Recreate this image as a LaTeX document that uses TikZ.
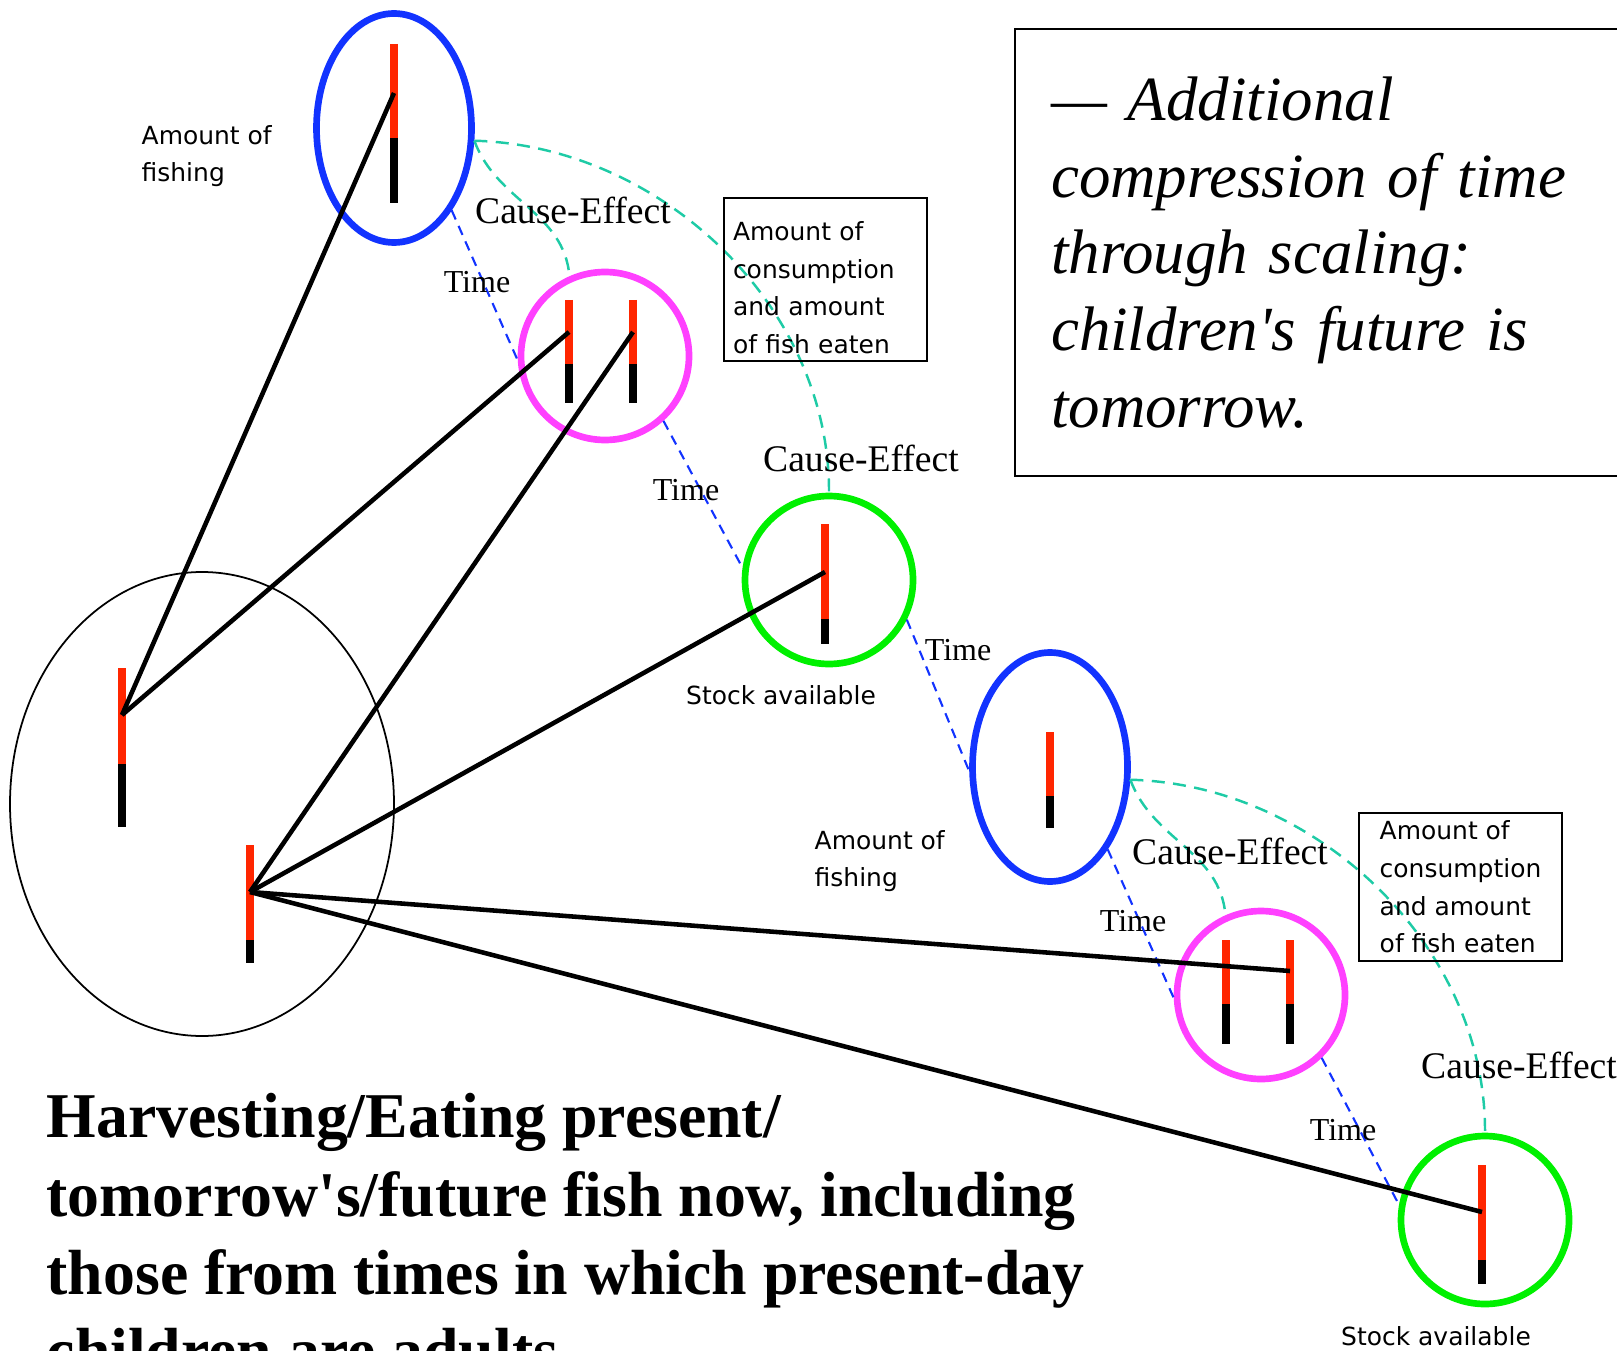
\documentclass[tikz,border=0pt]{standalone}
\usepackage{fontspec}
\setmainfont{Liberation Serif}
\newfontfamily\lucidish{DejaVu Sans}
\definecolor{fishBlue}{HTML}{1233FF}
\definecolor{fishMagenta}{HTML}{FF40FF}
\definecolor{fishGreen}{HTML}{00F000}
\definecolor{fishRed}{HTML}{FF2600}
\definecolor{fishTeal}{HTML}{1ECBA6}
\usetikzlibrary{
	shapes.geometric
}
\tikzset{
	fishingRing/.style={
		ellipse,
		draw=fishBlue,
		line width=1.9pt,
		minimum width=1.55cm,
		minimum height=2.29cm,
		inner sep=0pt
	},
	eatingRing/.style={
		circle,
		draw=fishMagenta,
		line width=1.9pt,
		minimum size=1.68cm,
		inner sep=0pt
	},
	stockRing/.style={
		circle,
		draw=fishGreen,
		line width=1.9pt,
		minimum size=1.68cm,
		inner sep=0pt
	},
	nowRing/.style={
		ellipse,
		draw=black,
		line width=0.5pt,
		minimum width=3.84cm,
		minimum height=4.64cm,
		inner sep=0pt
	},
	redPart/.style={
		fishRed,
		line width=2.3pt
	},
	blackPart/.style={
		black,
		line width=2.3pt
	},
	harvest/.style={
		black,
		line width=1.3pt
	},
	timeLink/.style={
		fishBlue,
		line width=0.6pt,
		dash pattern=on 2.8pt off 2pt
	},
	causeLink/.style={
		fishTeal,
		line width=0.7pt,
		dash pattern=on 3.7pt off 2.4pt
	},
	sideText/.style={
		font=\lucidish\fontsize{7.1pt}{10.7pt}\selectfont,
		align=left,
		inner sep=0pt
	},
	causeText/.style={
		font=\fontsize{10.7pt}{12pt}\selectfont,
		inner sep=0pt
	},
	timeText/.style={
		font=\fontsize{9.1pt}{11pt}\selectfont,
		inner sep=0pt
	},
	infoBox/.style={
		draw,
		line width=0.6pt,
		font=\lucidish\fontsize{7.1pt}{10.7pt}\selectfont,
		align=left,
		minimum width=2.03cm,
		inner sep=0pt
	},
	noteBox/.style={
		draw,
		line width=0.6pt,
		font=\fontsize{17.9pt}{21.8pt}\selectfont\itshape,
		align=left,
		text width=6cm,
		inner xsep=0.36cm,
		inner ysep=0pt,
		minimum height=4.47cm
	},
	headline/.style={
		font=\fontsize{18.15pt}{22.2pt}\selectfont\bfseries,
		align=left,
		inner sep=0pt
	}
}

\begin{document}
\begin{tikzpicture}
	\useasboundingbox (0,0) rectangle (16.17,13.5);
	% rings
	\node[nowRing] (now) at (2.02,5.46) {};
	\node[fishingRing] (fish1) at (3.94,12.22) {};
	\node[eatingRing] (eat1) at (6.05,9.94) {};
	\node[stockRing] (stock1) at (8.29,7.70) {};
	\node[fishingRing] (fish2) at (10.50,5.83) {};
	\node[eatingRing] (eat2) at (12.61,3.55) {};
	\node[stockRing] (stock2) at (14.85,1.30) {};
	% time and cause-effect links
	\draw[timeLink] (fish1.-55) -- (eat1.183);
	\draw[timeLink] (eat1.-48) -- (stock1.172);
	\draw[timeLink] (stock1.-27) -- (fish2.183);
	\draw[timeLink] (fish2.-55) -- (eat2.182);
	\draw[timeLink] (eat2.-46) -- (stock2.170);
	\draw[causeLink] (fish1.-9) to[out=-70,in=95] (eat1.114);
	\draw[causeLink] (fish1.-9) .. controls +(1.87,-0.05) and +(0.01,1.86) .. (stock1.north);
	\draw[causeLink] (fish2.-9) to[out=-70,in=95] (eat2.114);
	\draw[causeLink] (fish2.-9) .. controls +(1.87,-0.05) and +(0.01,1.86) .. (stock2.north);
	% fish bars
	\foreach \bx/\ya/\yb/\yc in {3.94/13.06/12.12/11.47, 5.69/10.50/9.86/9.47, 6.33/10.50/9.86/9.47,
		8.25/8.26/7.31/7.06, 10.50/6.18/5.54/5.22, 12.26/4.10/3.46/3.06, 12.90/4.10/3.46/3.06,
		14.82/1.85/0.90/0.66, 1.22/6.82/5.86/5.23, 2.50/5.05/4.10/3.87}{
		\draw[redPart] (\bx,\ya) -- (\bx,\yb);
		\draw[blackPart] (\bx,\yb) -- (\bx,\yc);
	}
	\coordinate (nowA) at (1.22,6.35);
	\coordinate (nowB) at (2.50,4.58);
	\coordinate (fish1c) at (3.94,12.57);
	\coordinate (eat1l) at (5.69,10.18);
	\coordinate (eat1r) at (6.33,10.18);
	\coordinate (stock1c) at (8.25,7.78);
	\coordinate (eat2r) at (12.90,3.79);
	\coordinate (stock2c) at (14.82,1.38);
	\draw[harvest] (nowA) -- (fish1c);
	\draw[harvest] (nowA) -- (eat1l);
	\draw[harvest] (nowB) -- (eat1r);
	\draw[harvest] (nowB) -- (stock1c);
	\draw[harvest] (nowB) -- (eat2r);
	\draw[harvest] (nowB) -- (stock2c);
	% labels
	\node[sideText, anchor=west] (amount1) at (1.41,11.94) {Amount of\\fishing};
	\node[sideText, anchor=west] (amount2) at (8.14,4.89) {Amount of\\fishing};
	\node[sideText] (avail1) at (7.81,6.545) {Stock available};
	\node[sideText] (avail2) at (14.36,0.135) {Stock available};
	\node[causeText] (cause1) at (5.73,11.40) {Cause-Effect};
	\node[causeText] (cause2) at (8.61,8.92) {Cause-Effect};
	\node[causeText] (cause3) at (12.30,4.99) {Cause-Effect};
	\node[causeText] (cause4) at (15.19,2.85) {Cause-Effect};
	\node[timeText] (time1) at (4.77,10.68) {Time};
	\node[timeText] (time2) at (6.86,8.60) {Time};
	\node[timeText] (time3) at (9.58,7.00) {Time};
	\node[timeText] (time4) at (11.33,4.29) {Time};
	\node[timeText] (time5) at (13.43,2.20) {Time};
	\node[infoBox, minimum height=1.63cm, text width=1.85cm, inner xsep=0.09cm] (eaten1) at (8.255,10.705) {\rule{0pt}{0.35cm}Amount of\\consumption\\and amount\\of fish eaten};
	\node[infoBox, minimum height=1.48cm] (eaten2) at (14.605,4.63) {Amount of\\consumption\\and amount\\of fish eaten};
	\node[noteBox, anchor=north west] (note) at (10.14,13.22) {— Additional\\compression of time\\through scaling:\\children\textquotesingle s future is\\tomorrow.};
	\node[headline, anchor=north west] (title) at (0.46,2.57) {Harvesting/Eating present/\\tomorrow\textquotesingle s/future fish now, including\\those from times in which present-day\\children are adults};
\end{tikzpicture}
\end{document}
